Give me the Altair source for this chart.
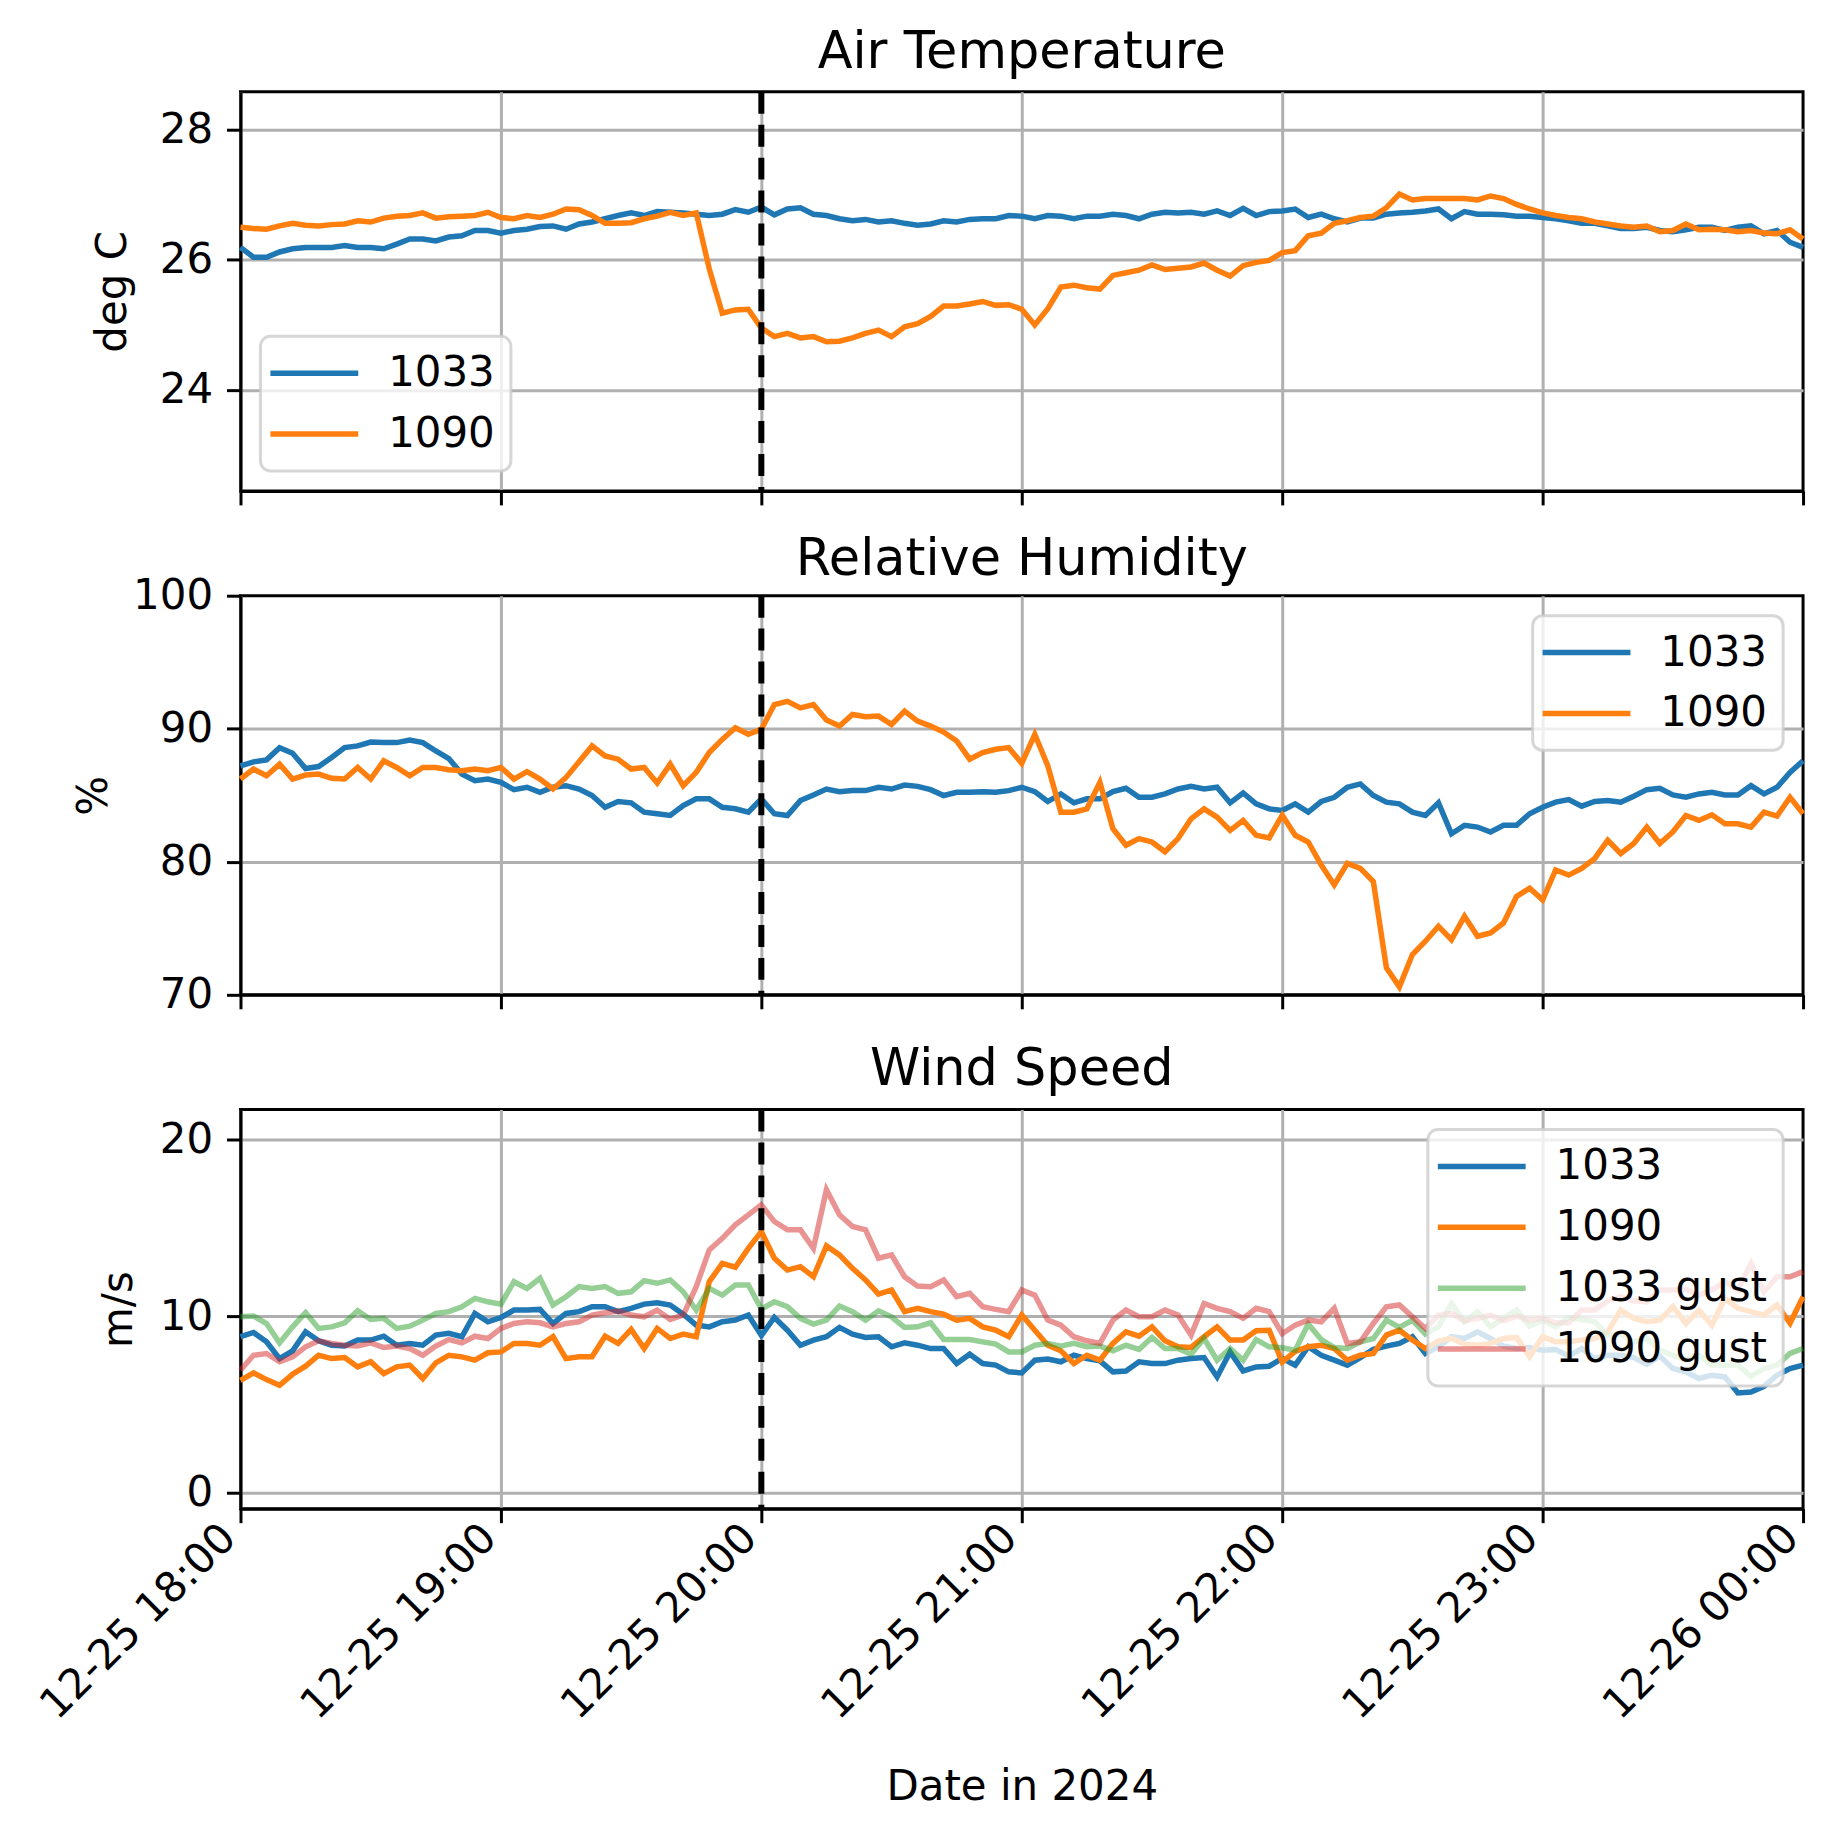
import altair as alt
import pandas as pd

# ---------------- data (sampled every 3 minutes, 18:00 -> 24:00) ----------------
START = "2024-12-25 18:00"
STEP = "3min"
EVENT_TIME = ["2024-12-25 20:00"]

temp_1033 = [
    26.19, 26.04, 26.04, 26.12, 26.17, 26.19, 26.19, 26.19, 26.22, 26.19,
    26.19, 26.17, 26.24, 26.32, 26.32, 26.29, 26.35, 26.37, 26.45, 26.45,
    26.41, 26.45, 26.47, 26.51, 26.52, 26.47, 26.55, 26.58, 26.63, 26.68,
    26.72, 26.68, 26.74, 26.73, 26.72, 26.70, 26.68, 26.70, 26.77, 26.73,
    26.81, 26.69, 26.78, 26.80, 26.70, 26.68, 26.63, 26.60, 26.62, 26.58,
    26.60, 26.56, 26.53, 26.55, 26.60, 26.58, 26.62, 26.63, 26.63, 26.68,
    26.67, 26.63, 26.68, 26.67, 26.63, 26.67, 26.67, 26.70, 26.68, 26.63,
    26.70, 26.73, 26.72, 26.73, 26.70, 26.75, 26.68, 26.79, 26.68, 26.74,
    26.75, 26.78, 26.65, 26.70, 26.63, 26.58, 26.64, 26.64, 26.70, 26.72,
    26.73, 26.75, 26.78, 26.63, 26.74, 26.70, 26.70, 26.69, 26.67, 26.67,
    26.65, 26.63, 26.60, 26.56, 26.56, 26.52, 26.48, 26.48, 26.50, 26.45,
    26.43, 26.46, 26.50, 26.50, 26.45, 26.50, 26.52, 26.40, 26.45, 26.27,
    26.19,
]
temp_1090 = [
    26.50, 26.48, 26.47, 26.52, 26.56, 26.53, 26.52, 26.54, 26.55, 26.60,
    26.58, 26.64, 26.67, 26.68, 26.72, 26.64, 26.66, 26.67, 26.68, 26.73,
    26.65, 26.63, 26.68, 26.65, 26.70, 26.78, 26.77, 26.68, 26.56, 26.56,
    26.57, 26.63, 26.67, 26.73, 26.68, 26.72, 25.86, 25.18, 25.23, 25.24,
    24.95, 24.82, 24.87, 24.80, 24.82, 24.74, 24.75, 24.80, 24.87, 24.92,
    24.82, 24.97, 25.02, 25.13, 25.29, 25.29, 25.32, 25.36, 25.30, 25.31,
    25.24, 25.00, 25.25, 25.58, 25.61, 25.57, 25.55, 25.76, 25.80, 25.84,
    25.92, 25.85, 25.87, 25.89, 25.95, 25.84, 25.75, 25.91, 25.96, 25.99,
    26.11, 26.14, 26.37, 26.41, 26.56, 26.60, 26.65, 26.67, 26.80, 27.01,
    26.92, 26.94, 26.94, 26.94, 26.94, 26.92, 26.98, 26.94, 26.85, 26.78,
    26.72, 26.68, 26.65, 26.63, 26.58, 26.55, 26.52, 26.50, 26.52, 26.43,
    26.45, 26.55, 26.46, 26.47, 26.46, 26.43, 26.45, 26.41, 26.40, 26.46,
    26.32,
]
rh_1033 = [
    87.21, 87.51, 87.66, 88.58, 88.16, 87.01, 87.16, 87.84, 88.58, 88.71,
    89.00, 88.96, 88.96, 89.15, 88.96, 88.33, 87.76, 86.59, 86.09, 86.22,
    85.97, 85.42, 85.60, 85.22, 85.60, 85.72, 85.47, 84.98, 84.10, 84.53,
    84.43, 83.73, 83.61, 83.48, 84.23, 84.73, 84.73, 84.10, 83.98, 83.73,
    84.73, 83.61, 83.48, 84.60, 85.02, 85.47, 85.27, 85.35, 85.35, 85.60,
    85.47, 85.77, 85.67, 85.42, 84.98, 85.22, 85.22, 85.27, 85.22, 85.35,
    85.60, 85.27, 84.53, 85.10, 84.43, 84.73, 84.73, 85.27, 85.52, 84.85,
    84.85, 85.10, 85.47, 85.67, 85.47, 85.60, 84.43, 85.17, 84.35, 83.98,
    83.86, 84.35, 83.73, 84.53, 84.85, 85.60, 85.85, 84.98, 84.48, 84.35,
    83.73, 83.48, 84.43, 82.11, 82.74, 82.61, 82.24, 82.74, 82.74, 83.61,
    84.10, 84.48, 84.68, 84.18, 84.53, 84.60, 84.48, 84.93, 85.42, 85.52,
    85.02, 84.85, 85.10, 85.22, 85.02, 85.02, 85.72, 85.10, 85.60, 86.72,
    87.59,
]
rh_1090 = [
    86.22, 86.97, 86.47, 87.34, 86.22, 86.52, 86.59, 86.27, 86.22, 87.09,
    86.22, 87.59, 87.09, 86.47, 87.09, 87.09, 86.92, 86.84, 86.97, 86.84,
    87.09, 86.22, 86.77, 86.22, 85.47, 86.34, 87.51, 88.71, 87.96, 87.71,
    86.97, 87.09, 85.92, 87.34, 85.72, 86.72, 88.21, 89.20, 90.07, 89.58,
    89.95, 91.82, 92.06, 91.57, 91.82, 90.65, 90.20, 91.07, 90.90, 90.95,
    90.32, 91.32, 90.57, 90.20, 89.75, 89.08, 87.71, 88.21, 88.46, 88.58,
    87.40, 89.58, 87.21, 83.73, 83.73, 83.98, 85.97, 82.49, 81.24, 81.74,
    81.49, 80.75, 81.74, 83.23, 83.98, 83.36, 82.36, 83.11, 81.99, 81.79,
    83.50, 81.99, 81.49, 79.75, 78.26, 79.88, 79.50, 78.51, 72.04, 70.60,
    73.03, 74.03, 75.15, 74.15, 75.90, 74.40, 74.65, 75.40, 77.39, 78.01,
    77.14, 79.38, 79.00, 79.50, 80.25, 81.62, 80.62, 81.37, 82.61, 81.37,
    82.24, 83.48, 83.11, 83.53, 82.86, 82.86, 82.61, 83.73, 83.43, 84.85,
    83.61,
]
wind_1033 = [
    8.83, 9.07, 8.54, 7.59, 8.03, 9.11, 8.60, 8.35, 8.30, 8.64,
    8.64, 8.86, 8.35, 8.45, 8.35, 8.92, 9.02, 8.83, 10.15, 9.68,
    9.92, 10.34, 10.34, 10.38, 9.58, 10.15, 10.25, 10.53, 10.53, 10.25,
    10.44, 10.68, 10.76, 10.63, 10.11, 9.49, 9.39, 9.68, 9.77, 10.06,
    8.90, 9.92, 9.20, 8.35, 8.64, 8.83, 9.36, 8.98, 8.79, 8.83,
    8.26, 8.48, 8.35, 8.16, 8.16, 7.31, 7.84, 7.31, 7.22, 6.84,
    6.78, 7.50, 7.56, 7.41, 7.78, 7.59, 7.46, 6.84, 6.89, 7.41,
    7.31, 7.31, 7.50, 7.59, 7.65, 6.55, 7.97, 6.89, 7.12, 7.16,
    7.60, 7.22, 8.26, 7.78, 7.50, 7.22, 7.65, 8.11, 8.30, 8.45,
    8.83, 7.88, 8.26, 8.83, 8.73, 9.11, 8.73, 8.30, 8.16, 8.22,
    8.07, 8.11, 7.73, 8.16, 7.59, 7.78, 7.78, 7.65, 7.27, 7.73,
    7.03, 6.84, 6.46, 6.65, 6.55, 5.64, 5.70, 6.02, 6.65, 7.03,
    7.22,
]
wind_1090 = [
    6.36, 6.78, 6.40, 6.08, 6.70, 7.16, 7.78, 7.59, 7.65, 7.12,
    7.41, 6.74, 7.12, 7.22, 6.46, 7.35, 7.78, 7.69, 7.50, 7.92,
    7.97, 8.45, 8.45, 8.35, 8.83, 7.59, 7.69, 7.69, 8.86, 8.45,
    9.24, 8.16, 9.30, 8.73, 8.98, 8.83, 11.95, 12.99, 12.77, 13.84,
    14.79, 13.28, 12.61, 12.80, 12.23, 13.98, 13.47, 12.71, 12.05, 11.25,
    11.48, 10.25, 10.44, 10.25, 10.11, 9.77, 9.87, 9.39, 9.20, 8.83,
    10.06, 9.20, 8.35, 8.03, 7.31, 7.78, 7.50, 8.45, 9.11, 8.86,
    9.39, 8.60, 8.26, 8.22, 8.83, 9.39, 8.64, 8.64, 9.17, 9.20,
    7.40, 8.00, 8.26, 8.35, 8.16, 7.50, 7.78, 7.88, 8.92, 9.20,
    8.64, 8.16, 8.60, 8.73, 8.41, 8.35, 8.45, 8.73, 8.79, 7.69,
    8.83, 8.54, 8.54, 8.64, 8.73, 9.11, 10.34, 9.87, 9.68, 9.77,
    10.53, 9.58, 10.34, 9.49, 11.00, 10.44, 10.25, 10.06, 10.63, 9.60,
    11.10,
]
gust_1033 = [
    9.96, 10.00, 9.58, 8.48, 9.39, 10.19, 9.30, 9.39, 9.62, 10.30,
    9.81, 9.87, 9.30, 9.43, 9.77, 10.15, 10.25, 10.53, 11.00, 10.81,
    10.68, 11.95, 11.57, 12.14, 10.63, 11.10, 11.67, 11.57, 11.67, 11.29,
    11.38, 12.01, 11.86, 12.05, 11.38, 10.34, 11.57, 11.19, 11.76, 11.76,
    10.40, 10.81, 10.53, 9.87, 9.55, 9.77, 10.57, 10.25, 9.77, 10.30,
    9.96, 9.36, 9.39, 9.62, 8.67, 8.67, 8.67, 8.54, 8.41, 7.97,
    7.97, 8.35, 8.45, 8.30, 8.45, 8.26, 8.30, 8.03, 8.35, 8.11,
    8.79, 8.16, 8.16, 7.84, 8.73, 7.50, 8.16, 7.50, 8.67, 8.26,
    8.20, 8.07, 9.55, 8.67, 8.22, 8.16, 8.54, 8.73, 9.77, 9.36,
    9.77, 8.98, 9.39, 10.72, 9.68, 10.25, 9.39, 9.87, 10.34, 9.43,
    9.77, 9.39, 9.92, 9.81, 9.68, 8.92, 8.98, 8.54, 8.73, 8.07,
    7.78, 7.50, 7.78, 7.22, 7.22, 7.22, 6.59, 7.03, 7.22, 7.88,
    8.16,
]
gust_1090 = [
    6.93, 7.78, 7.88, 7.41, 7.69, 8.26, 8.60, 8.45, 8.35, 8.30,
    8.48, 8.22, 8.30, 8.16, 7.78, 8.30, 8.67, 8.48, 8.86, 8.73,
    9.30, 9.58, 9.68, 9.62, 9.39, 9.58, 9.68, 10.06, 10.19, 10.28,
    10.06, 9.96, 10.34, 9.81, 10.06, 11.67, 13.75, 14.41, 15.17, 15.74,
    16.31, 15.36, 14.89, 14.89, 13.84, 17.16, 15.74, 15.08, 14.89, 13.28,
    13.47, 12.23, 11.70, 11.67, 12.05, 11.10, 11.29, 10.53, 10.38, 10.25,
    11.48, 11.19, 9.77, 9.49, 8.83, 8.60, 8.45, 9.77, 10.34, 9.96,
    9.96, 10.34, 10.06, 8.92, 10.72, 10.44, 10.25, 9.87, 10.44, 10.25,
    9.00, 9.49, 9.77, 9.68, 10.44, 8.45, 8.54, 9.58, 10.53, 10.63,
    9.96, 9.30, 10.06, 10.15, 9.73, 9.87, 10.06, 9.73, 10.00, 9.77,
    9.87, 9.62, 9.62, 10.34, 10.34, 10.87, 11.10, 10.87, 10.81, 11.48,
    11.48, 11.52, 11.19, 11.48, 11.95, 11.48, 12.99, 11.38, 12.23, 12.23,
    12.52,
]

station_names = ["1033", "1090"]
wind_names = ["1033", "1090", "1033 gust", "1090 gust"]
station_colors = ["#1f77b4", "#ff7f0e"]
wind_colors = ["#1f77b4", "#ff7f0e", "rgba(44,160,44,0.5)", "rgba(214,39,40,0.5)"]
panel_titles = ["Air Temperature", "Relative Humidity", "Wind Speed"]
y_titles = ["deg C", "%", "m/s"]
x_title = "Date in 2024"
temp_ticks = [24, 26, 28]
rh_ticks = [70, 80, 90, 100]
wind_ticks = [0, 10, 20]
temp_domain = [22.45, 28.58]
rh_domain = [70, 100]
wind_domain = [-0.92, 21.71]

times = pd.date_range(START, periods=len(temp_1033), freq=STEP)
for arr in [temp_1090, rh_1033, rh_1090, wind_1033, wind_1090, gust_1033, gust_1090]:
    assert len(arr) == len(times), len(arr)


def long_frame(names, series):
    frames = [pd.DataFrame({"time": times, "value": vals, "series": n})
              for n, vals in zip(names, series)]
    return pd.concat(frames, ignore_index=True)


df_temp = long_frame(station_names, [temp_1033, temp_1090])
df_rh = long_frame(station_names, [rh_1033, rh_1090])
df_wind = long_frame(wind_names, [wind_1033, wind_1090, gust_1033, gust_1090])
df_event = pd.DataFrame({"time": pd.to_datetime(EVENT_TIME)})

FONT = "DejaVu Sans"
FS = 42
x_ticks = [alt.DateTime(year=2024, month=12, date=25, hours=h) for h in range(18, 24)] + \
          [alt.DateTime(year=2024, month=12, date=26, hours=0)]
x_domain = [x_ticks[0], x_ticks[-1]]
x_grid_color = {"condition": {"test": "hours(datum.value) == 0", "value": "transparent"},
                "value": "#b0b0b0"}


def panel(df, names, colors, title, title_offset, ytitle, ytitle_pad, ydomain, yticks,
          legend_orient, bottom):
    x_axis = alt.Axis(values=x_ticks, format="%m-%d %H:%M", labels=bottom,
                      labelAngle=315, labelAlign="right", labelBaseline="middle",
                      labelPadding=8, labelOffset=-12, titlePadding=58,
                      gridColor=x_grid_color)
    y_grid_color = {"condition": {"test": f"datum.value <= {ydomain[0]} || datum.value >= {ydomain[1]}",
                                  "value": "transparent"},
                    "value": "#b0b0b0"}
    x_enc = alt.X("time:T", scale=alt.Scale(domain=x_domain, nice=False),
                  axis=x_axis, title=x_title if bottom else None)
    lines = alt.Chart(df).mark_line(strokeWidth=5.5).encode(
        x=x_enc,
        y=alt.Y("value:Q", scale=alt.Scale(domain=ydomain, nice=False, zero=False),
                axis=alt.Axis(values=yticks, titlePadding=ytitle_pad, gridColor=y_grid_color),
                title=ytitle),
        color=alt.Color("series:N", scale=alt.Scale(domain=names, range=colors),
                        sort=names,
                        legend=alt.Legend(title=None, orient=legend_orient, offset=20)),
    )
    rule = alt.Chart(df_event).mark_rule(color="black", strokeWidth=6, strokeDash=[22, 11]).encode(
        x=alt.X("time:T")
    )
    return alt.layer(lines, rule).properties(
        width=1566, height=400,
        title=alt.TitleParams(title, fontSize=51, font=FONT, fontWeight="normal", color="black",
                              anchor="middle", offset=title_offset),
    )


p1 = panel(df_temp, station_names, station_colors, panel_titles[0], 10, y_titles[0], 25,
           temp_domain, temp_ticks, "bottom-left", False)
p2 = panel(df_rh, station_names, station_colors, panel_titles[1], -11, y_titles[1], 17,
           rh_domain, rh_ticks, "top-right", False)
p3 = panel(df_wind, wind_names, wind_colors, panel_titles[2], 11, y_titles[2], 19,
           wind_domain, wind_ticks, "top-right", True)

chart = alt.vconcat(p1, p2, p3, spacing=24).resolve_scale(
    x="independent", y="independent", color="independent"
).resolve_legend(color="independent").properties(
    padding={"left": 23, "top": 15, "right": 10, "bottom": 5}
).configure_view(
    stroke="black", strokeWidth=3
).configure_axis(
    labelFont=FONT, labelFontSize=FS, labelColor="black", labelLimit=0,
    titleFont=FONT, titleFontSize=FS, titleFontWeight="normal", titleColor="black",
    tickColor="black", tickWidth=3, tickSize=14, labelPadding=14,
    domainColor="black", domainWidth=3, gridWidth=3,
).configure_legend(
    labelFont=FONT, labelFontSize=FS, labelColor="black", labelLimit=0,
    symbolType="M-2.5,0H2.5", symbolSize=1240, symbolStrokeWidth=5.5, symbolOffset=17,
    labelOffset=53, padding=16, rowPadding=19,
    fillColor="rgba(255,255,255,0.8)", strokeColor="rgba(204,204,204,0.8)", strokeWidth=3,
    cornerRadius=10,
)

chart.save("out.html", embed_options={"renderer": "svg", "actions": False})
